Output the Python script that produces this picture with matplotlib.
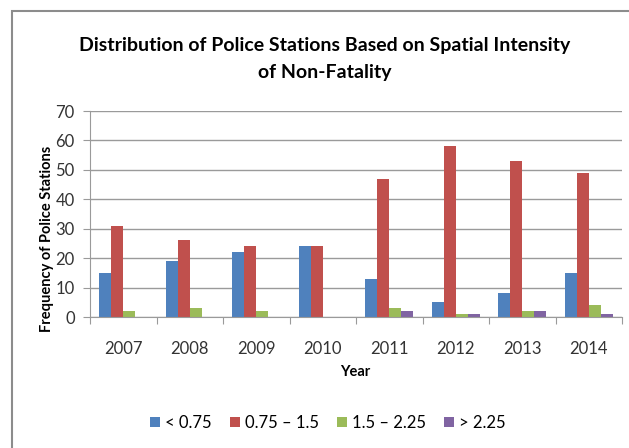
import numpy as np
import matplotlib
matplotlib.use('Agg')
import matplotlib.pyplot as plt
from matplotlib.patches import Rectangle

years = ['2007', '2008', '2009', '2010', '2011', '2012', '2013', '2014']
labels = ['< 0.75', '0.75 – 1.5', '1.5 – 2.25', '> 2.25']
low = [15, 19, 22, 24, 13, 5, 8, 15]
mid = [31, 26, 24, 24, 47, 58, 53, 49]
high = [2, 3, 2, 0, 3, 1, 2, 4]
top = [0, 0, 0, 0, 2, 1, 2, 1]
colors = ['#4F81BD', '#C0504D', '#9BBB59', '#8064A2']

plt.rcParams['font.family'] = ['Lato', 'DejaVu Sans']

fig = plt.figure(figsize=(6.29, 4.48), dpi=100)
ax = fig.add_axes([90/629, 1-317/448, 532/629, 206/448])

# chart border like excel
fig.patches.append(Rectangle((12/629, -0.1), 1.2, 1-11/448+0.1, transform=fig.transFigure,
                             fill=False, edgecolor='#8c8c8c', linewidth=1.5))

x = np.arange(len(years))
w = 1/5.5
series = [low, mid, high, top]
for i, s in enumerate(series):
    ax.bar(x + (i-1.5)*w, s, width=w, color=colors[i], label=labels[i])

ax.set_xlim(-0.5, 7.5)
ax.set_ylim(0, 70)
ax.set_yticks(range(0, 71, 10))
ax.yaxis.grid(True, color='#9a9a9a', linewidth=1)
ax.set_axisbelow(True)
ax.set_xticks(np.arange(-0.5, 8, 1))
ax.set_xticklabels([])
ax.set_xticks(x, minor=True)
ax.set_xticklabels(years, minor=True)
ax.tick_params(axis='x', which='minor', length=0, labelsize=12, pad=17, labelcolor='#333333')
ax.tick_params(axis='x', which='major', length=5, color='#9a9a9a')
ax.tick_params(axis='y', length=5, color='#9a9a9a', labelsize=12, labelcolor='#333333', pad=6)
for sp in ['top', 'right']:
    ax.spines[sp].set_visible(False)
for sp in ['left', 'bottom']:
    ax.spines[sp].set_color('#9a9a9a')

fig.text(47/629, 1-239/448, 'Frequency of Police Stations', rotation=90,
         ha='center', va='center', fontsize=10.5, fontweight='bold')
fig.text(355/629, 1-372/448, 'Year', ha='center', va='center', fontsize=10.5, fontweight='bold')

fig.text(325/629, 1-59/448, 'Distribution of Police Stations Based on Spatial Intensity\nof Non-Fatality',
         ha='center', va='center', fontsize=14, fontweight='bold', linespacing=1.75)

fig.legend(loc='center', bbox_to_anchor=(328/629, 1-423/448), ncol=4, frameon=False,
           fontsize=12, handlelength=0.6, handleheight=0.6, handletextpad=0.3, columnspacing=1.1)

fig.savefig('out.png', dpi=100)
